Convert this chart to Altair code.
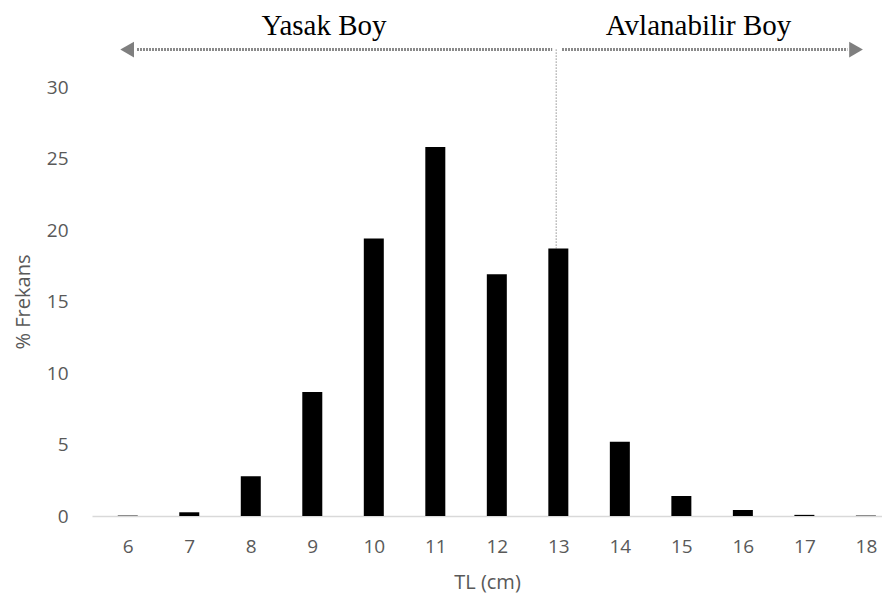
import altair as alt
import pandas as pd

# --- chart data ---
tl_cm = [6, 7, 8, 9, 10, 11, 12, 13, 14, 15, 16, 17, 18]
frekans = [0.03, 0.26, 2.78, 8.67, 19.4, 25.8, 16.9, 18.7, 5.2, 1.4, 0.42, 0.08, 0.03]
y_ticks = [0, 5, 10, 15, 20, 25, 30]

# --- annotation (legal-size split) ---
labels = ["Yasak Boy", "Avlanabilir Boy"]
label_x = [9.19, 15.28]
label_y = [33.66, 33.66]
arrow_start = [6.15, 13.06]
arrow_end = [12.90, 17.70]
arrow_y = 32.62
head_x = [5.99, 17.84]
head_shape = ["triangle-left", "triangle-right"]
limit_x = 12.965
limit_top = 32.62
limit_bottom = 18.7

bars = pd.DataFrame({"tl": tl_cm, "f": frekans})
segs = pd.DataFrame({"x": arrow_start, "x2": arrow_end, "y": [arrow_y] * 2})
heads = pd.DataFrame({"x": head_x, "y": [arrow_y] * 2, "shape": head_shape})
vline = pd.DataFrame({"x": [limit_x], "y": [limit_bottom], "y2": [limit_top]})
texts = pd.DataFrame({"x": label_x, "y": label_y, "t": labels})

xs = alt.Scale(domain=[5.5, 5.5 + 790 / 62.3], nice=False, zero=False)
ys = alt.Scale(domain=[0, 30], nice=False)

gray = "#595959"
font = "Open Sans"

bar_layer = alt.Chart(bars).mark_bar(size=20, color="black").encode(
    x=alt.X("tl:Q", scale=xs, title="TL (cm)",
            axis=alt.Axis(values=tl_cm, format="d", ticks=False, grid=False,
                          domainColor="#d9d9d9", domainWidth=1.5,
                          labelColor=gray, labelFont=font, labelFontSize=19,
                          labelPadding=21, titleColor=gray, titleFont=font,
                          titleFontSize=20, titleFontWeight="normal",
                          titlePadding=16, labelFlush=False)),
    y=alt.Y("f:Q", scale=ys, title="% Frekans",
            axis=alt.Axis(values=y_ticks, ticks=False, grid=False, domain=False,
                          labelColor=gray, labelFont=font, labelFontSize=19,
                          labelPadding=24, titleColor=gray, titleFont=font,
                          titleFontSize=20, titleFontWeight="normal",
                          titlePadding=13)),
)

seg_layer = alt.Chart(segs).mark_rule(color="#8a8a8a", strokeWidth=3,
                                      strokeDash=[2, 1]).encode(
    x=alt.X("x:Q", scale=xs), x2="x2:Q", y=alt.Y("y:Q", scale=ys))

head_layer = alt.Chart(heads).mark_point(filled=True, color="#7f7f7f",
                                         opacity=1, size=250).encode(
    x=alt.X("x:Q", scale=xs), y=alt.Y("y:Q", scale=ys),
    shape=alt.Shape("shape:N", scale=None))

vline_layer = alt.Chart(vline).mark_rule(color="#595959", strokeWidth=1,
                                         strokeDash=[1, 2]).encode(
    x=alt.X("x:Q", scale=xs), y=alt.Y("y:Q", scale=ys), y2="y2:Q")

text_layer = alt.Chart(texts).mark_text(font="Liberation Serif", fontSize=29,
                                        baseline="alphabetic", align="center",
                                        color="black").encode(
    x=alt.X("x:Q", scale=xs), y=alt.Y("y:Q", scale=ys), text="t:N")

chart = alt.layer(bar_layer, seg_layer, head_layer, vline_layer, text_layer).properties(
    width=790, height=429,
    autosize=alt.AutoSizeParams(type="none"),
    padding={"left": 84, "top": 79, "right": 0, "bottom": 80},
    background="white",
).configure_view(stroke=None)

chart.save("out.html", embed_options={"renderer": "svg", "actions": False})
